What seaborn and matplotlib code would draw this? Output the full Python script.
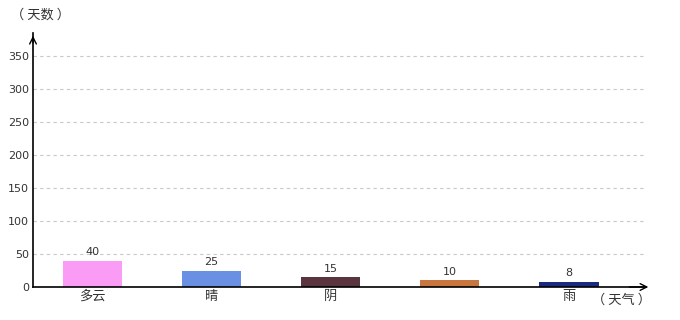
import matplotlib
matplotlib.use("Agg")
import matplotlib.pyplot as plt
import seaborn as sns
import pandas as pd

categories = ["多云", "晴", "阴", "", "雨"]
values = [40, 25, 15, 10, 8]
colors = ["#fa9cf5", "#6a90e4", "#5a343f", "#c8753f", "#1a2a80"]
yticks = [0, 50, 100, 150, 200, 250, 300, 350]

sns.set_theme(style="white")
plt.rcParams['font.family'] = ['Noto Sans CJK SC', 'DejaVu Sans']

df = pd.DataFrame({"cat": [f"c{i}" for i in range(len(categories))], "val": values})

fig = plt.figure(figsize=(6.8, 3.2), dpi=100)
ax = fig.add_axes([33/680, 1-287/320, 612/680, 254/320])

sns.barplot(data=df, x="cat", y="val", hue="cat", palette=colors, width=0.5,
            legend=False, ax=ax, saturation=1, linewidth=0)

ax.set_xlim(-0.5, 4.64)
ax.set_ylim(0, 385)
ax.set_yticks(yticks)
ax.set_yticklabels([str(t) for t in yticks], fontsize=8, color="#333333", family="DejaVu Sans")
ax.set_xticks(range(len(categories)))
ax.set_xticklabels(categories, fontsize=9.5, color="#333333")
ax.tick_params(axis="x", length=0, pad=2)
ax.tick_params(axis="y", length=0, pad=3)
ax.set_xlabel("")
ax.set_ylabel("")

for t in yticks[1:]:
    ax.axhline(t, color="#c8c8c8", lw=0.8, ls=(0, (3, 3)), zorder=0)

for sp in ["top", "right"]:
    ax.spines[sp].set_visible(False)
for sp in ["left", "bottom"]:
    ax.spines[sp].set_color("black")
    ax.spines[sp].set_linewidth(1.2)

# arrow heads
ax.annotate("", xy=(0, 1.0), xytext=(0, 0.95), xycoords="axes fraction",
            arrowprops=dict(arrowstyle="->", color="black", lw=1.0))
ax.annotate("", xy=(1.01, 0), xytext=(0.97, 0), xycoords="axes fraction",
            arrowprops=dict(arrowstyle="->", color="black", lw=1.0))

for i, v in enumerate(values):
    ax.text(i, v + 5, str(v), ha="center", va="bottom", fontsize=8,
            color="#333333", family="DejaVu Sans")

fig.text(11/680, 1-15/320, "（ 天数 ）", fontsize=9.5, color="#333333", va="center", ha="left")
fig.text(592/680, 1-300/320, "（ 天气 ）", fontsize=9.5, color="#333333", va="center", ha="left")

fig.savefig("out.png", dpi=100)
